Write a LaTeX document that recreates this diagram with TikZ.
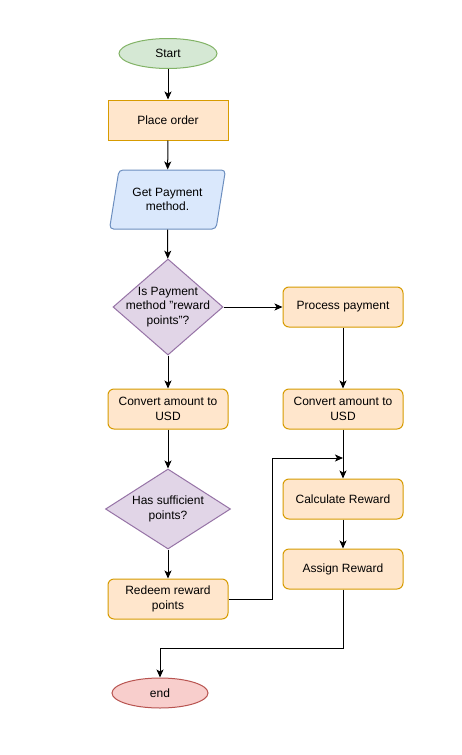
\documentclass[tikz,border=0pt]{standalone}
\usepackage{fontspec}
\setmainfont{Liberation Sans}
\usepackage{xcolor}
\usetikzlibrary{shapes}
\usetikzlibrary{shapes.geometric}
\usetikzlibrary{arrows.meta}
\usetikzlibrary{positioning}
\usetikzlibrary{calc}

\definecolor{grnfill}{HTML}{D5E8D4}
\definecolor{grnline}{HTML}{82B366}
\definecolor{orgfill}{HTML}{FFE6CC}
\definecolor{orgline}{HTML}{D79B00}
\definecolor{blufill}{HTML}{DAE8FC}
\definecolor{bluline}{HTML}{6C8EBF}
\definecolor{prpfill}{HTML}{E1D5E7}
\definecolor{prpline}{HTML}{9673A6}
\definecolor{redfill}{HTML}{F8CECC}
\definecolor{redline}{HTML}{B85450}

\begin{document}
\begin{tikzpicture}[x=1pt, y=-1pt, line width=1pt,
	every node/.style={font=\fontsize{12}{14.5}\selectfont, align=center, inner sep=2pt},
	terminal/.style={ellipse, minimum width=98pt, minimum height=30pt},
	procbox/.style={rectangle, draw=orgline, fill=orgfill, minimum width=120pt, minimum height=40pt, rounded corners=6pt},
	iobox/.style={trapezium, trapezium left angle=75, trapezium right angle=105, trapezium stretches=true, draw=bluline, fill=blufill, minimum width=117pt, minimum height=59pt, rounded corners=4pt},
	decision/.style={diamond, draw=prpline, fill=prpfill, inner sep=0pt},
	arr/.style={-{Stealth[length=8pt, width=7pt, inset=2pt]}}]
			\useasboundingbox[fill=white] (0,0) rectangle (461,755);
			% left column
			\node[terminal, draw=grnline, fill=grnfill] (start) at (168, 53.5) {Start};
			\node[procbox, rounded corners=0pt] (order) at (168, 120) {Place order};
			\node[iobox] (pay) at (167.5, 199.5) {Get Payment\\method.};
			\node[decision, minimum width=110pt, minimum height=96pt, label={[align=center]center:Is Payment\\method "reward\\points"?}] (isrew) at (168, 307) {};
			\node[procbox] (conv1) at (168, 409) {Convert amount to\\USD};
			\node[decision, minimum width=125pt, minimum height=80pt, label={[align=center]center:Has sufficient\\points?}] (enough) at (168, 509) {};
			\node[procbox] (redeem) at (168, 599) {Redeem reward\\points};
			\node[terminal, draw=redline, fill=redfill, minimum width=96pt] (end) at (160, 693) {end};
			% right column
			\node[procbox] (process) at (343, 307) {Process payment};
			\node[procbox] (conv2) at (343, 409) {Convert amount to\\USD};
			\node[procbox] (calc) at (343, 499) {Calculate Reward};
			\node[procbox] (assign) at (343, 569) {Assign Reward};
			% bends
			\coordinate (jog) at (272, 458);
			\coordinate (join) at (343, 458);
			\coordinate (turn) at (343, 648);
			% down the left side
			\draw[arr] (start) -- (order);
			\draw[arr] (order) -- (pay);
			\draw[arr] (pay) -- (isrew);
			\draw[arr] (isrew) -- (conv1);
			\draw[arr] (conv1) -- (enough);
			\draw[arr] (enough) -- (redeem);
			% over to the right side
			\draw[arr] (isrew.east) -- (process.west);
			\draw[arr] (process) -- (conv2);
			\draw[arr] (conv2) -- (calc);
			\draw[arr] (calc) -- (assign);
			% back paths
			\draw[arr] (redeem.east) -| (jog) -- (join);
			\draw[arr] (assign.south) -- (turn) -| (end.north);
		\end{tikzpicture}
\end{document}
